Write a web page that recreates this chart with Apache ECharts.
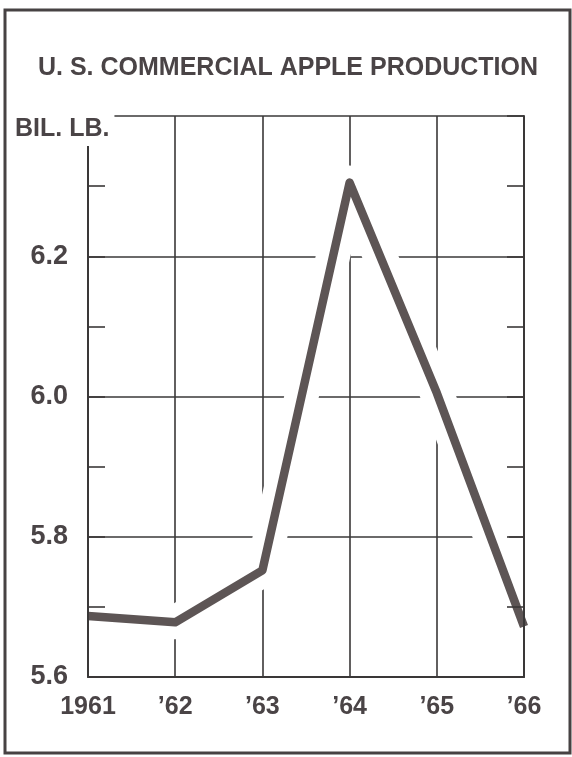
<!DOCTYPE html>
<html>
<head>
<meta charset="utf-8">
<script src="https://cdn.jsdelivr.net/npm/echarts@6/dist/echarts.min.js"></script>
<style>
html,body{margin:0;padding:0;background:#fff;}
#chart{width:572px;height:757px;}
</style>
</head>
<body>
<div id="chart"></div>
<script>
// ---- data ----
var TITLE = "U. S. COMMERCIAL APPLE PRODUCTION";
var UNIT = "BIL. LB.";
var years = ["1961", "\u201962", "\u201963", "\u201964", "\u201965", "\u201966"];
var production = [5.687, 5.678, 5.752, 6.305, 6.005, 5.672];
var yTicks = [5.6, 5.8, 6.0, 6.2, 6.4];
var yMin = 5.6, yMax = 6.4, yStep = 0.2;

var FONT = "'Liberation Sans', Arial, sans-serif";
var INK = "#4a4446";
var GRID = "#3a3838";
var LINE = "#5d5555";

var dom = document.getElementById('chart');
var chart = echarts.init(dom, null, {renderer: 'canvas', width: 572, height: 757, devicePixelRatio: 1});

// grid lines as markLines (so the halo of the curve can interrupt them)
var gridMarks = [];
years.forEach(function (y) { gridMarks.push({xAxis: y}); });
yTicks.forEach(function (v) { gridMarks.push({yAxis: v}); });

var option = {
  animation: false,
  backgroundColor: '#ffffff',
  title: [
    {
      text: TITLE, left: 38, top: 56, padding: 0, zlevel: 3, z: 10,
      textStyle: {fontFamily: FONT, fontWeight: 'bold', fontSize: 25, color: INK}
    },
    {
      text: UNIT, left: 11, top: 113, padding: [4, 5, 4, 4], zlevel: 3, z: 10,
      backgroundColor: '#ffffff',
      textStyle: {fontFamily: FONT, fontWeight: 'bold', fontSize: 25, color: INK}
    }
  ],
  grid: {left: 88, right: 48, top: 116, bottom: 80, containLabel: false},
  xAxis: [
    {
      type: 'category', data: years, boundaryGap: false, position: 'bottom', zlevel: 2, z: 7,
      axisLine: {show: true, lineStyle: {color: GRID, width: 2}},
      axisTick: {show: false},
      axisLabel: {show: true, interval: 0, margin: 18, fontFamily: FONT, fontWeight: 'bold', fontSize: 25, color: INK},
      splitLine: {show: false}
    }
  ],
  yAxis: [
    {
      type: 'value', min: yMin, max: yMax, interval: yStep, position: 'left', zlevel: 2, z: 7,
      axisLine: {show: true, lineStyle: {color: GRID, width: 2}},
      axisTick: {show: true, inside: true, length: 17, lineStyle: {color: GRID, width: 1.6}},
      minorTick: {show: true, splitNumber: 2, length: 17, lineStyle: {color: GRID, width: 1.6}},
      axisLabel: {show: true, margin: 20, showMaxLabel: false, fontFamily: FONT, fontWeight: 'bold', fontSize: 27, color: INK,
                  padding: [4, 0, 0, 0],
                  formatter: function (v) { return Math.abs(v - yMax) < 1e-6 ? '' : v.toFixed(1); }},
      splitLine: {show: false}
    },
    {
      type: 'value', min: yMin, max: yMax, interval: yStep, position: 'right', zlevel: 2, z: 7,
      axisLine: {show: true, lineStyle: {color: GRID, width: 2}},
      axisTick: {show: true, inside: true, length: 17, lineStyle: {color: GRID, width: 1.6}},
      minorTick: {show: true, splitNumber: 2, length: 17, lineStyle: {color: GRID, width: 1.6}},
      axisLabel: {show: false},
      splitLine: {show: false}
    }
  ],
  series: [
    { // grid lines
      type: 'line', data: [], xAxisIndex: 0, yAxisIndex: 0, zlevel: 0, z: 1, silent: true, symbol: 'none',
      markLine: {
        zlevel: 0, z: 1, silent: true, animation: false,
        symbol: ['none', 'none'],
        label: {show: false},
        emphasis: {disabled: true},
        lineStyle: {color: GRID, width: 1.6, type: 'solid'},
        data: gridMarks
      }
    },
    { // white halo that interrupts the grid around the curve
      type: 'line', data: production, xAxisIndex: 0, yAxisIndex: 0, zlevel: 1, z: 5,
      symbol: 'none', silent: true, clip: true,
      lineStyle: {color: '#ffffff', width: 34, join: 'round', cap: 'round'}
    },
    {
      type: 'line', data: production, xAxisIndex: 0, yAxisIndex: 0, zlevel: 1, z: 6,
      symbol: 'none', clip: false,
      lineStyle: {color: LINE, width: 8.5, join: 'round', cap: 'butt'}
    }
  ],
  graphic: [
    {
      type: 'rect', zlevel: 3, z: 100, silent: true,
      shape: {x: 5, y: 10, width: 565, height: 743},
      style: {fill: null, stroke: '#474243', lineWidth: 3}
    }
  ]
};
chart.setOption(option);
</script>
</body>
</html>
